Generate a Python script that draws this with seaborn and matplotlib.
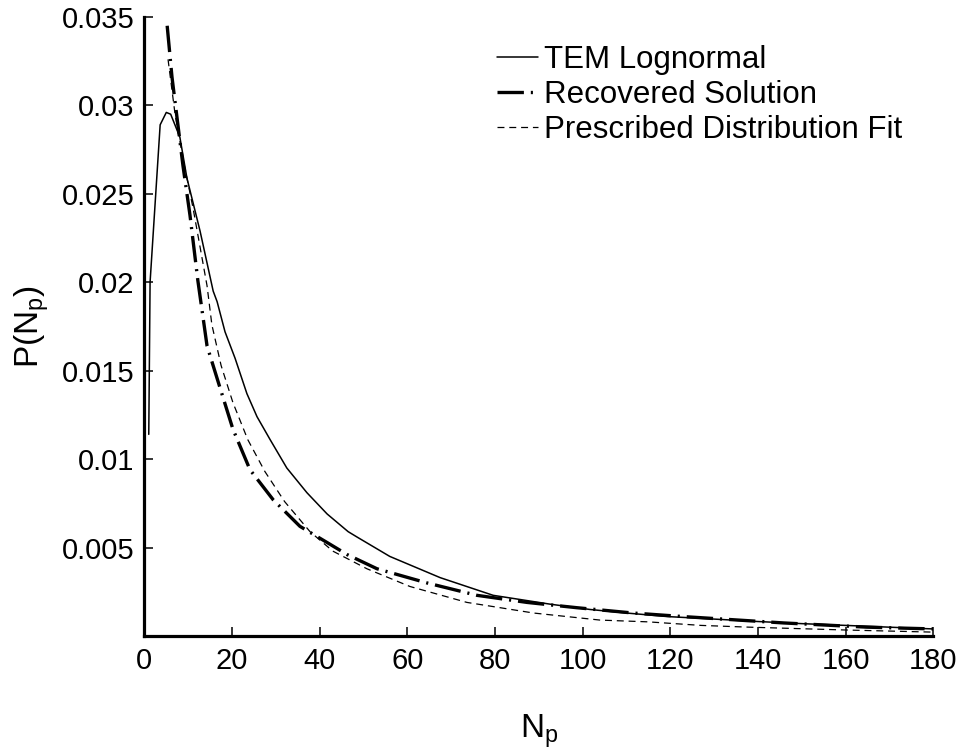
import numpy as np
import pandas as pd
import seaborn as sns
import matplotlib.pyplot as plt
from matplotlib.ticker import FixedLocator, FixedFormatter

# values
tem_np = [1, 1.3, 3.6, 5, 6, 8.1, 9.7, 12.7, 15.7, 16.6, 18.4, 20.7, 23.4, 25.7, 28.7,
          32.5, 37.1, 41.7, 46.5, 48.5, 56, 67.5, 79.6, 92.6, 101.7, 110, 119.3, 126.9,
          140, 150, 160, 170, 180]
tem_p = [0.0114, 0.0200, 0.0289, 0.0296, 0.0295, 0.0282, 0.0259, 0.0229, 0.0195, 0.0189,
         0.0172, 0.0157, 0.0137, 0.0124, 0.0111, 0.0095, 0.0081, 0.0069, 0.0059, 0.0056,
         0.0045, 0.0033, 0.0023, 0.0018, 0.0015, 0.0013, 0.0011, 0.0010, 0.00082,
         0.00070, 0.00060, 0.00050, 0.00040]

rec_np = [5.2, 6.3, 8.8, 10.4, 12.2, 14.3, 17.3, 20.2, 24.1, 29.4, 35.5, 41.6, 46.3,
          53.1, 64.5, 75.9, 87.3, 98.7, 111.5, 122.9, 145.8, 164.9, 180]
rec_p = [0.0345, 0.0316, 0.0266, 0.0238, 0.0201, 0.0164, 0.0140, 0.0117, 0.0094, 0.0077,
         0.0062, 0.0053, 0.0046, 0.0038, 0.0030, 0.0023, 0.0019, 0.0016, 0.0013, 0.0011,
         0.00074, 0.00050, 0.00040]

fit_np = [5.4, 7, 8.8, 11.1, 14.3, 15.4, 17.5, 20.2, 23.6, 27.5, 32, 37.8, 43, 50.8,
          60.6, 73.6, 88.8, 104, 115, 127, 138, 160, 180]
fit_p = [0.0326, 0.0295, 0.0270, 0.0242, 0.0198, 0.0176, 0.0153, 0.0132, 0.0111, 0.0093,
         0.0076, 0.0059, 0.0048, 0.0038, 0.0028, 0.0019, 0.0013, 0.0009, 0.0008, 0.0006,
         0.0005, 0.00034, 0.00022]

labels = ["TEM Lognormal", "Recovered Solution", "Prescribed Distribution Fit"]
x_ticks = [0, 20, 40, 60, 80, 100, 120, 140, 160, 180]
y_ticks = [0.005, 0.01, 0.015, 0.02, 0.025, 0.03, 0.035]
y_tick_labels = ["0.005", "0.01", "0.015", "0.02", "0.025", "0.03", "0.035"]

sns.set_style("ticks", {"axes.edgecolor": "black", "text.color": "black",
                        "axes.labelcolor": "black", "xtick.color": "black",
                        "ytick.color": "black"})
plt.rcParams["font.family"] = ["Liberation Sans", "DejaVu Sans"]
plt.rcParams["mathtext.default"] = "regular"
plt.rcParams["lines.scale_dashes"] = False

fig = plt.figure(figsize=(9.69, 7.55), dpi=100)
ax = fig.add_axes([0.149, 0.1576, 0.814, 0.82])

tem_df = pd.DataFrame({"Np": tem_np, "P": tem_p})
rec_df = pd.DataFrame({"Np": rec_np, "P": rec_p})
fit_df = pd.DataFrame({"Np": fit_np, "P": fit_p})

sns.lineplot(data=tem_df, x="Np", y="P", sort=False, estimator=None, ax=ax,
             color="black", linewidth=1.1, label=labels[0])
sns.lineplot(data=rec_df, x="Np", y="P", sort=False, estimator=None, ax=ax,
             color="black", linewidth=2.4, label=labels[1])
sns.lineplot(data=fit_df, x="Np", y="P", sort=False, estimator=None, ax=ax,
             color="black", linewidth=0.9, label=labels[2])
lines = ax.get_lines()
lines[1].set_dashes((19, 5, 1.5, 5))
lines[2].set_dashes((5, 3.5))

ax.set_xlim(0, 180)
ax.set_ylim(0, 0.035)
ax.xaxis.set_major_locator(FixedLocator(x_ticks))
ax.yaxis.set_major_locator(FixedLocator(y_ticks))
ax.yaxis.set_major_formatter(FixedFormatter(y_tick_labels))

sns.despine(ax=ax)
for side in ["left", "bottom"]:
    ax.spines[side].set_linewidth(2.3)
    ax.spines[side].set_color("black")
ax.tick_params(axis="both", direction="in", length=6.5, width=1.1, labelsize=21,
               color="black", labelcolor="black")
ax.tick_params(axis="x", pad=8)
ax.tick_params(axis="y", pad=7)

ax.set_xlabel("N$_p$", fontsize=24, labelpad=27, color="black")
ax.set_ylabel("P(N$_p$)", fontsize=24, labelpad=8, color="black")

leg = ax.legend(loc="upper left", bbox_to_anchor=(0.513, 0.941),
                bbox_transform=fig.transFigure, frameon=False, fontsize=22.5,
                handlelength=1.3, handletextpad=0.2, labelspacing=0.16,
                borderpad=0, borderaxespad=0)
for t in leg.get_texts():
    t.set_color("black")

plt.savefig("out.png", dpi=100)
